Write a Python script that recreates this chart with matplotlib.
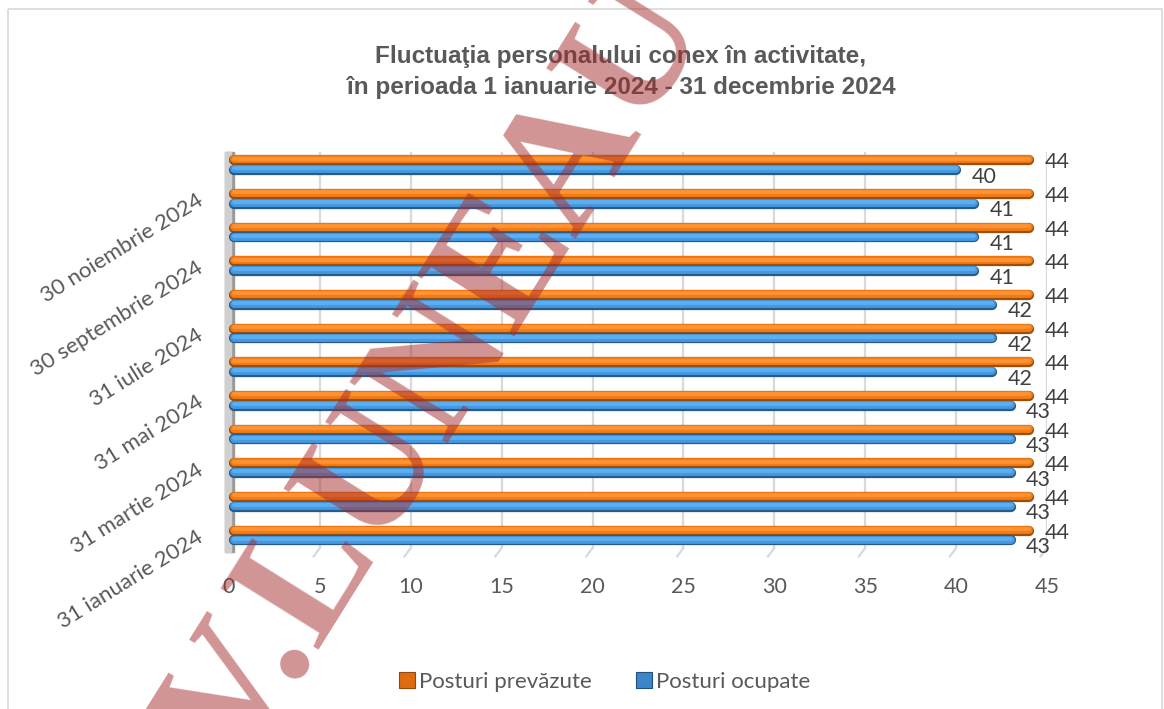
import matplotlib
matplotlib.use("Agg")
import matplotlib.pyplot as plt
from matplotlib.patches import Rectangle
from matplotlib.lines import Line2D

categories = ["31 ianuarie 2024", "29 februarie 2024", "31 martie 2024", "30 aprilie 2024",
              "31 mai 2024", "30 iunie 2024", "31 iulie 2024", "31 august 2024",
              "30 septembrie 2024", "31 octombrie 2024", "30 noiembrie 2024", "31 decembrie 2024"]
shown_labels = ["31 ianuarie 2024", "", "31 martie 2024", "", "31 mai 2024", "",
                "31 iulie 2024", "", "30 septembrie 2024", "", "30 noiembrie 2024", ""]
posturi_prevazute = [44, 44, 44, 44, 44, 44, 44, 44, 44, 44, 44, 44]
posturi_ocupate = [43, 43, 43, 43, 43, 42, 42, 42, 41, 41, 41, 40]
series_names = ["Posturi prevăzute", "Posturi ocupate"]
x_ticks = [0, 5, 10, 15, 20, 25, 30, 35, 40, 45]
title = "Fluctuaţia personalului conex în activitate,\nîn perioada 1 ianuarie 2024 - 31 decembrie 2024"

W, H = 1164, 709
fig = plt.figure(figsize=(W / 100, H / 100), dpi=100)
fig.patch.set_facecolor("white")

# chart border
fig.add_artist(Rectangle((8 / W, 1 - 9 / H), (1162 - 8) / W, -(720 - 9) / H,
                         transform=fig.transFigure, fill=False, ec="#D9D9D9", lw=1.2))

left, right, top, bottom = 229, 1047, 152, 548
ax = fig.add_axes([left / W, 1 - bottom / H, (right - left) / W, (bottom - top) / H])
ax.set_xlim(0, 45)
ax.set_ylim(-0.37, 11.39)
for s in ax.spines.values():
    s.set_visible(False)
ax.tick_params(length=0)
ax.set_xticks(x_ticks)
ax.set_xticklabels([str(t) for t in x_ticks], fontsize=15.5, color="#595959", family="Lato")
ax.tick_params(axis="x", pad=21)
ax.set_yticks(range(len(categories)))
ax.set_yticklabels(shown_labels, rotation=32, rotation_mode="anchor", ha="right", va="center",
                   fontsize=16, color="#595959", family="Lato")
ax.tick_params(axis="y", pad=20)

# gridlines + floor slants
for t in x_ticks[1:]:
    ax.axvline(t, color="#D9D9D9", lw=1.6, zorder=0)
    ax.add_line(Line2D([t, t - 0.35], [-0.37, -0.62], color="#D9D9D9", lw=1.6,
                       clip_on=False, zorder=0))

# left wall
ax.add_patch(Rectangle((-0.005, -0.01), 0.011, 1.01, transform=ax.transAxes, color="#9A9A9A",
                       clip_on=False, zorder=1))
ax.add_patch(Rectangle((-0.005, -0.01), 0.007, 1.01, transform=ax.transAxes, color="#D0D0D0",
                       clip_on=False, zorder=1))

off = 0.145
lw = 7.4
styles = [
    (posturi_prevazute, +off, ["#9A4F0E", "#F47C14", "#FF9232"]),
    (posturi_ocupate, -off, ["#2A5A86", "#4499E2", "#5CAEF3"]),
]
for vals, dy, cols in styles:
    for i, v in enumerate(vals):
        y = i + dy
        ax.plot([0.3, v], [y, y], color=cols[0], lw=lw, solid_capstyle="round", zorder=3)
        ax.plot([0.3, v], [y + 0.025, y + 0.025], color=cols[1], lw=lw * 0.76,
                solid_capstyle="round", zorder=3)
        ax.plot([0.3, v], [y + 0.05, y + 0.05], color=cols[2], lw=lw * 0.38,
                solid_capstyle="round", zorder=3)

for i, v in enumerate(posturi_prevazute):
    ax.text(v + 0.85, i + off - 0.06, str(v), fontsize=15.5, color="#404040", family="Lato",
            ha="left", va="center", zorder=5)
for i, v in enumerate(posturi_ocupate):
    ax.text(v + 0.85, i - off - 0.2, str(v), fontsize=15.5, color="#404040", family="Lato",
            ha="left", va="center", zorder=5)

fig.text(621 / W, 1 - 72 / H, title, ha="center", va="center", fontsize=17.5,
         fontweight="bold", color="#595959", family="Liberation Sans", linespacing=1.42)

# legend
leg_handles = [
    Rectangle((0, 0), 1, 1, fc="#E06A10", ec="#8F4A0E", lw=0.8),
    Rectangle((0, 0), 1, 1, fc="#3A86CC", ec="#22507A", lw=0.8),
]
leg = fig.legend(leg_handles, series_names, loc="center", bbox_to_anchor=(605 / W, 1 - 682 / H),
                 ncol=2, frameon=False, handlelength=0.7, handleheight=0.7, handletextpad=0.2,
                 columnspacing=2.0, prop={"family": "Lato", "size": 16})
for t in leg.get_texts():
    t.set_color("#595959")

# watermark
fig.text(238 / W, 1 - 775 / H, "V.LUNEAU", rotation=58, rotation_mode="anchor",
         ha="left", va="baseline", fontsize=126, family="Liberation Serif", fontweight="bold",
         color="#A52A2A", alpha=0.5, zorder=10)

fig.savefig("out.png", dpi=100)
